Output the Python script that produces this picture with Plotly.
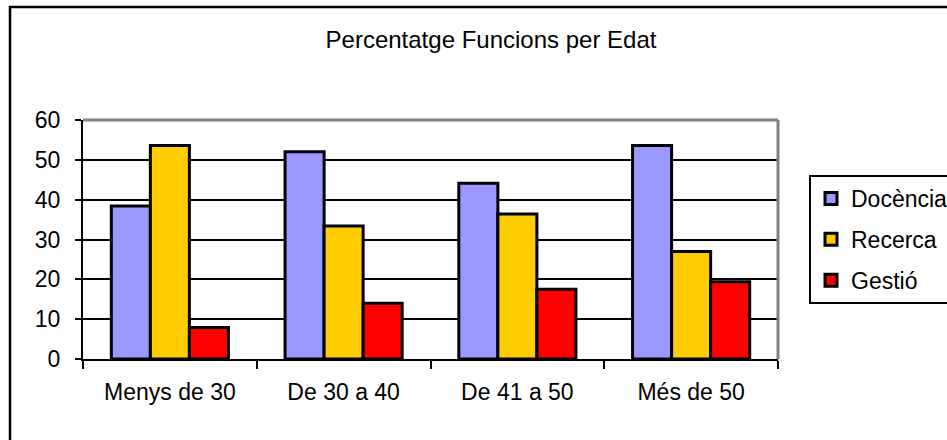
import plotly.graph_objects as go

# Percentage of functions by age group
categories = ["Menys de 30", "De 30 a 40", "De 41 a 50", "Més de 50"]
docencia = [38.4, 52.0, 44.1, 53.6]
recerca = [53.6, 33.4, 36.4, 27.0]
gestio = [7.9, 14.0, 17.5, 19.4]

series_names = ["Docència", "Recerca", "Gestió"]
series_values = [docencia, recerca, gestio]
series_colors = ["#9999FF", "#FFCC00", "#FF0000"]

y_ticks = [0, 10, 20, 30, 40, 50, 60]

FONT = "Liberation Sans, Arial, sans-serif"
W, H = 947, 440
# plot area in pixels
L, R, T, B = 83, 778, 120, 359

fig = go.Figure()
for name, vals, col in zip(series_names, series_values, series_colors):
    fig.add_trace(go.Bar(
        x=categories, y=vals, name=name, legendgroup=name,
        marker=dict(color=col, line=dict(color="black", width=3)),
    ))

pw, ph = R - L, B - T


def px_x(v):
    return (v - L) / pw


def px_y(v):
    return (B - v) / ph


shapes = [
    # outer chart frame
    dict(type="rect", xref="paper", yref="paper",
         x0=px_x(10), x1=px_x(W + 20), y0=px_y(H + 20), y1=px_y(7),
         line=dict(color="black", width=2.5), layer="above"),
    # grey top and right border of the plot area
    dict(type="line", xref="paper", yref="paper", x0=0, x1=1, y0=1, y1=1,
         line=dict(color="#808080", width=3), layer="above"),
    dict(type="line", xref="paper", yref="paper", x0=1, x1=1, y0=0, y1=1,
         line=dict(color="#808080", width=3), layer="above"),
]

fig.update_layout(
    width=W, height=H, autosize=False,
    margin=dict(l=L, r=W - R, t=T, b=H - B, pad=0, autoexpand=False),
    paper_bgcolor="white", plot_bgcolor="white",
    font=dict(family=FONT, size=23, color="black"),
    title=dict(text="Percentatge Funcions per Edat", x=491 / W, xref="container",
               xanchor="center", y=1 - 40 / H, yref="container", yanchor="middle",
               font=dict(family=FONT, size=24, color="black")),
    barmode="group", bargap=0.326, bargroupgap=0,
    showlegend=True,
    legend=dict(x=px_x(809), y=px_y(175), xanchor="left", yanchor="top",
                bordercolor="black", borderwidth=2, bgcolor="white",
                tracegroupgap=8, traceorder="grouped",
                font=dict(family=FONT, size=23, color="black")),
    shapes=shapes,
)

fig.update_xaxes(
    type="category", showgrid=False, zeroline=False,
    showline=True, linecolor="black", linewidth=2,
    ticks="outside", tickson="boundaries", ticklen=8, tickwidth=2, tickcolor="black",
    ticklabelstandoff=11, automargin=False,
)
fig.update_yaxes(
    range=[0, 60], tickvals=y_ticks, showgrid=True, gridcolor="black", gridwidth=2,
    zeroline=False, showline=True, linecolor="black", linewidth=2,
    ticks="outside", ticklen=6, tickwidth=2, tickcolor="black",
    ticklabelstandoff=10, automargin=False,
)

fig.write_html("out.html")
